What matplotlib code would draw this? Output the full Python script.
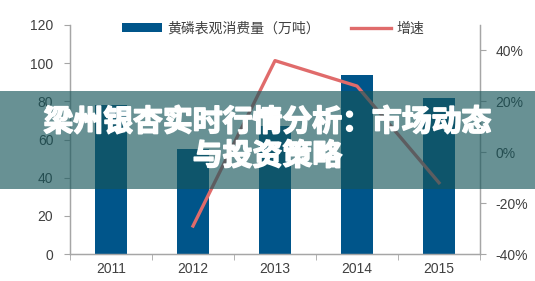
import matplotlib.pyplot as plt
import matplotlib.patheffects as pe
from matplotlib.patches import Rectangle
from matplotlib.ticker import FuncFormatter

plt.rcParams['font.family'] = ['Liberation Sans', 'Noto Sans CJK SC']

years = ["2011", "2012", "2013", "2014", "2015"]
consumo = [78, 55, 67, 94, 82]          # 黄磷表观消费量（万吨）
growth_years = ["2012", "2013", "2014", "2015"]
growth = [-0.29, 0.36, 0.26, -0.12]     # 增速

bar_color = "#00558A"
line_color = "#E06B6B"
axis_color = "#A6A6A6"
text_color = "#404040"

fig = plt.figure(figsize=(5.35, 2.81), dpi=100)
ax = fig.add_axes([70 / 535, 27 / 281, 410 / 535, 229 / 281])

x = list(range(len(years)))
bars = ax.bar(x, consumo, width=0.4, color=bar_color, label="黄磷表观消费量（万吨）", zorder=2)
ax.set_xlim(-0.5, len(years) - 0.5)
ax.set_ylim(0, 120)
ax.set_yticks(range(0, 121, 20))
ax.set_xticks(x)
ax.set_xticklabels(years)
ax.set_xticks([i - 0.5 for i in range(len(years) + 1)], minor=True)
ax.tick_params(axis='x', which='major', length=0, pad=6, labelsize=10, colors=text_color)
ax.tick_params(axis='x', which='minor', length=4, color=axis_color, direction='out')
ax.tick_params(axis='y', length=4, color=axis_color, labelsize=10, labelcolor=text_color, pad=8)

ax2 = ax.twinx()
gx = [years.index(y) for y in growth_years]
line, = ax2.plot(gx, growth, color=line_color, lw=2.4, label="增速", zorder=3)
ax2.set_ylim(-0.4, 0.5)
ax2.set_yticks([-0.4, -0.2, 0, 0.2, 0.4])
ax2.yaxis.set_major_formatter(FuncFormatter(lambda v, p: f"{v*100:.0f}%"))
ax2.tick_params(axis='y', length=4, color=axis_color, labelsize=10, labelcolor=text_color, pad=7)

for a in (ax, ax2):
    a.spines['top'].set_visible(False)
    for s in ('left', 'right', 'bottom'):
        a.spines[s].set_color(axis_color)
        a.spines[s].set_linewidth(0.9)

leg = ax.legend([bars, line], ["黄磷表观消费量（万吨）", "增速"], ncol=2, frameon=False,
                loc='center', bbox_to_anchor=(0.495, 0.985), fontsize=10,
                handlelength=2.9, handleheight=0.6, columnspacing=2.2, handletextpad=0.4)
for t in leg.get_texts():
    t.set_color(text_color)

# 半透明标题横幅
fig.patches.append(Rectangle((0, 92 / 281), 1, 98 / 281, transform=fig.transFigure,
                             facecolor=(23 / 255, 86 / 255, 91 / 255), alpha=0.65,
                             edgecolor='none', zorder=10))
stroke = [pe.withStroke(linewidth=1.2, foreground='white')]
fig.text(0.5, 1 - 122 / 281, "梁州银杏实时行情分析：市场动态", ha='center', va='center',
         fontsize=21.5, fontweight='heavy', color='white', family='Noto Sans CJK SC',
         zorder=11, path_effects=stroke)
fig.text(0.5, 1 - 156 / 281, "与投资策略", ha='center', va='center',
         fontsize=21.5, fontweight='heavy', color='white', family='Noto Sans CJK SC',
         zorder=11, path_effects=stroke)

fig.savefig("out.png", dpi=100)
